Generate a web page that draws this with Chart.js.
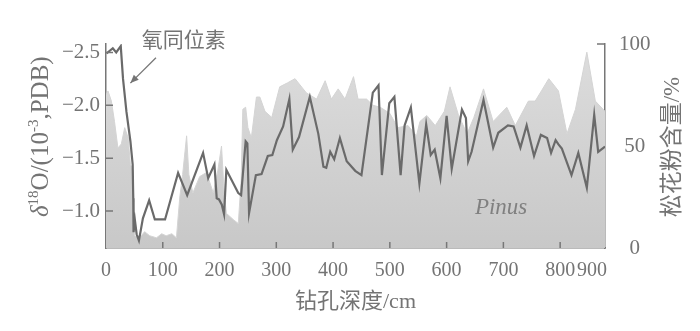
<!DOCTYPE html>
<html lang="zh">
<head>
<meta charset="UTF-8">
<title>钻孔氧同位素与松花粉含量</title>
<script src="https://cdn.jsdelivr.net/npm/chart.js"></script>
<style>
  html, body { margin: 0; padding: 0; background: #fff; }
  #wrap { width: 700px; height: 331px; }
</style>
</head>
<body>
<div id="wrap"><canvas id="chart" width="700" height="331"></canvas></div>
<script>
// depth (cm) and δ18O values of the isotope curve
const oDepth = [1, 12, 18, 26, 30, 36, 43, 47, 48, 48.5, 51, 54, 58, 65, 76, 86, 104, 127, 143, 171,
  180, 191, 195, 199, 204, 208, 212, 233, 238, 246, 249, 252, 264, 274, 285, 293, 301, 312, 323, 329,
  340, 359, 374, 383, 388, 395, 402, 412, 424, 439, 450, 470, 480, 486, 499, 508, 519, 526, 537, 552,
  564, 572, 579, 589, 600, 609, 627, 634, 638, 644, 665, 682, 691, 708, 718, 730, 741, 754, 766, 777,
  784, 792, 797, 803, 820, 832, 847, 860, 867, 879];
const oValue = [-2.49, -2.54, -2.50, -2.56, -2.25, -1.94, -1.66, -1.44, -1.12, -0.80, -0.91, -0.78, -0.72, -0.93, -1.10, -0.92, -0.92, -1.36, -1.15, -1.55,
  -1.31, -1.44, -1.12, -1.11, -1.06, -0.97, -1.39, -1.17, -1.15, -1.66, -1.64, -0.98, -1.34, -1.35, -1.52, -1.53, -1.67, -1.80, -2.06, -1.58,
  -1.70, -2.08, -1.73, -1.42, -1.41, -1.56, -1.49, -1.69, -1.47, -1.38, -1.34, -2.12, -2.19, -1.34, -2.02, -2.08, -1.34, -1.81, -1.98, -1.26,
  -1.82, -1.53, -1.58, -1.31, -1.90, -1.40, -1.96, -1.88, -1.47, -1.56, -2.05, -1.60, -1.74, -1.81, -1.80, -1.60, -1.81, -1.52, -1.72, -1.69,
  -1.55, -1.67, -1.63, -1.59, -1.34, -1.55, -1.22, -1.91, -1.56, -1.61];

// depth (cm) and Pinus pollen percentage
const pinusDepth = [0, 3.5, 9.5, 15, 21, 27, 33, 39, 43, 47.6, 50.6, 59, 68, 77, 89, 98, 106, 116, 124, 130,
  135, 142, 146, 153, 165, 177, 189, 197, 203.5, 208, 212, 224, 233, 238, 241, 246, 250, 256, 265, 271,
  280, 292, 306, 320, 333, 353, 371, 386, 397, 409, 421, 436, 444, 459, 470, 483, 500, 514, 532, 547,
  553, 565, 580, 596, 606, 621, 636, 648, 665, 682, 706, 721, 744, 756, 767, 780, 797, 812, 827, 847,
  862, 879];
const pinusPct = [75, 77, 72, 62, 49, 51, 59, 54, 41, 38, 6, 5, 8, 6, 5, 7, 6, 7, 5, 25,
  36, 55, 36, 27, 35, 37, 27, 38, 50, 28, 17, 14, 12, 33, 68, 69, 59, 54, 74, 74,
  67, 64, 79, 81, 83, 76, 73, 82, 73, 78, 73, 84, 73, 73, 70, 69, 66, 59, 60, 55,
  62, 65, 60, 67, 79, 65, 56, 64, 78, 62, 69, 60, 72, 72, 77, 83, 77, 56, 68, 96,
  72, 67];

// axis ticks
const xTickValues = [0, 100, 200, 300, 400, 500, 600, 700, 800, 856];
const xTickLabels = ['0', '100', '200', '300', '400', '500', '600', '700', '800', '900'];
const xMarkValues = [100, 200, 300, 400, 500, 600, 700, 800];
const leftTickValues = [-2.5, -2.0, -1.5, -1.0];
const rightTickValues = [0, 50, 100];

const serif = '"Liberation Serif", "Times New Roman", serif';
const cjk = '"Liberation Serif", "Noto Sans CJK SC", serif';
const textColor = '#747474';
const axisColor = '#777777';

// tick marks pointing inward, rotated side titles and the two labels
const decor = {
  id: 'decor',
  afterDraw(chart) {
    const { ctx, chartArea: a, scales } = chart;
    const x = scales.x, yl = scales.y, yr = scales.y2;
    ctx.save();
    ctx.strokeStyle = axisColor;
    ctx.lineWidth = 1.5;
    ctx.beginPath();
    xMarkValues.forEach(v => {
      const px = x.getPixelForValue(v);
      ctx.moveTo(px, a.bottom);
      ctx.lineTo(px, a.bottom - 6);
    });
    leftTickValues.forEach(v => {
      const py = yl.getPixelForValue(v);
      ctx.moveTo(a.left, py);
      ctx.lineTo(a.left + 7, py);
    });
    ctx.moveTo(a.right, yr.getPixelForValue(100));
    ctx.lineTo(a.right - 8, yr.getPixelForValue(100));
    ctx.stroke();

    ctx.fillStyle = textColor;
    ctx.textBaseline = 'alphabetic';

    // left title: δ18O/(10-3,PDB), read bottom to top
    const parts = [
      ['δ', 'italic 25px ' + serif, 0],
      ['18', '15px ' + serif, -10],
      ['O/(10', '25px ' + serif, 0],
      ['-3', '15px ' + serif, -10],
      [',PDB)', '25px ' + serif, 0]
    ];
    ctx.save();
    ctx.translate(48, 217);
    ctx.rotate(-Math.PI / 2);
    ctx.textAlign = 'left';
    let pos = 0;
    parts.forEach(([t, f, dy]) => {
      ctx.font = f;
      ctx.fillText(t, pos, dy);
      pos += ctx.measureText(t).width;
    });
    ctx.restore();

    // right title
    ctx.save();
    ctx.translate(673, 147);
    ctx.rotate(-Math.PI / 2);
    ctx.textAlign = 'center';
    ctx.textBaseline = 'middle';
    ctx.font = '23px ' + cjk;
    ctx.fillText('松花粉含量/%', 0, 0);
    ctx.restore();

    // isotope label with arrow
    const tailX = x.getPixelForValue(88), tailY = yl.getPixelForValue(-2.45);
    const tipX = x.getPixelForValue(43), tipY = yl.getPixelForValue(-2.21);
    ctx.beginPath();
    ctx.lineWidth = 1.3;
    ctx.moveTo(tailX, tailY);
    ctx.lineTo(tipX, tipY);
    ctx.stroke();
    const ang = Math.atan2(tipY - tailY, tipX - tailX);
    ctx.beginPath();
    ctx.moveTo(tipX, tipY);
    ctx.lineTo(tipX - 9 * Math.cos(ang - 0.4), tipY - 9 * Math.sin(ang - 0.4));
    ctx.lineTo(tipX - 9 * Math.cos(ang + 0.4), tipY - 9 * Math.sin(ang + 0.4));
    ctx.closePath();
    ctx.fill();

    ctx.textAlign = 'center';
    ctx.textBaseline = 'middle';
    ctx.font = '21px ' + cjk;
    ctx.fillText('氧同位素', x.getPixelForValue(137), yl.getPixelForValue(-2.60));

    ctx.fillStyle = '#808080';
    ctx.font = 'italic 23px ' + serif;
    ctx.fillText('Pinus', x.getPixelForValue(696), yr.getPixelForValue(19.6));
    ctx.restore();
  }
};

new Chart(document.getElementById('chart').getContext('2d'), {
  type: 'line',
  data: {
    datasets: [
      {
        label: '氧同位素',
        data: oDepth.map((d, i) => ({ x: d, y: oValue[i] })),
        yAxisID: 'y',
        borderColor: '#6a6a6a',
        borderWidth: 2.2,
        pointRadius: 0,
        tension: 0,
        fill: false
      },
      {
        label: 'Pinus',
        data: pinusDepth.map((d, i) => ({ x: d, y: pinusPct[i] })),
        yAxisID: 'y2',
        borderColor: '#d4d4d4',
        borderWidth: 1,
        backgroundColor: c => {
          const a = c.chart.chartArea;
          if (!a) return '#cccccc';
          const g = c.chart.ctx.createLinearGradient(0, a.top, 0, a.bottom);
          g.addColorStop(0, '#dddddd');
          g.addColorStop(1, '#c8c8c8');
          return g;
        },
        pointRadius: 0,
        tension: 0,
        fill: 'origin'
      }
    ]
  },
  options: {
    responsive: false,
    animation: false,
    layout: { padding: { top: 44, left: 0, right: 0, bottom: 0 } },
    plugins: { legend: { display: false }, tooltip: { enabled: false } },
    scales: {
      x: {
        type: 'linear',
        min: 0,
        max: 879,
        afterBuildTicks: s => { s.ticks = xTickValues.map(v => ({ value: v })); },
        afterFit: s => { s.height = 83; },
        grid: { display: false, drawTicks: false },
        border: { display: true, color: axisColor, width: 1.5 },
        ticks: {
          callback: (v, i) => xTickLabels[i],
          autoSkip: false,
          maxRotation: 0,
          padding: 11,
          color: textColor,
          font: { family: serif, size: 20 }
        },
        title: {
          display: true,
          text: '钻孔深度/cm',
          color: textColor,
          font: { family: cjk, size: 22 },
          padding: { top: 0, bottom: 16 }
        }
      },
      y: {
        position: 'left',
        reverse: true,
        min: -2.58,
        max: -0.65,
        afterBuildTicks: s => { s.ticks = leftTickValues.map(v => ({ value: v })); },
        afterFit: s => { s.width = 106; },
        grid: { display: false, drawTicks: false },
        border: { display: true, color: axisColor, width: 1.5 },
        ticks: {
          callback: v => v.toFixed(1).replace('-', '\u2212'),
          padding: 6,
          color: textColor,
          font: { family: serif, size: 21 }
        }
      },
      y2: {
        position: 'right',
        min: 0,
        max: 100,
        afterBuildTicks: s => { s.ticks = rightTickValues.map(v => ({ value: v })); },
        afterFit: s => { s.width = 95; },
        grid: { display: false, drawTicks: false },
        border: { display: true, color: axisColor, width: 1.5 },
        ticks: {
          crossAlign: 'center',
          padding: 14,
          color: textColor,
          font: { family: serif, size: 21 }
        }
      }
    }
  },
  plugins: [decor]
});
</script>
</body>
</html>
